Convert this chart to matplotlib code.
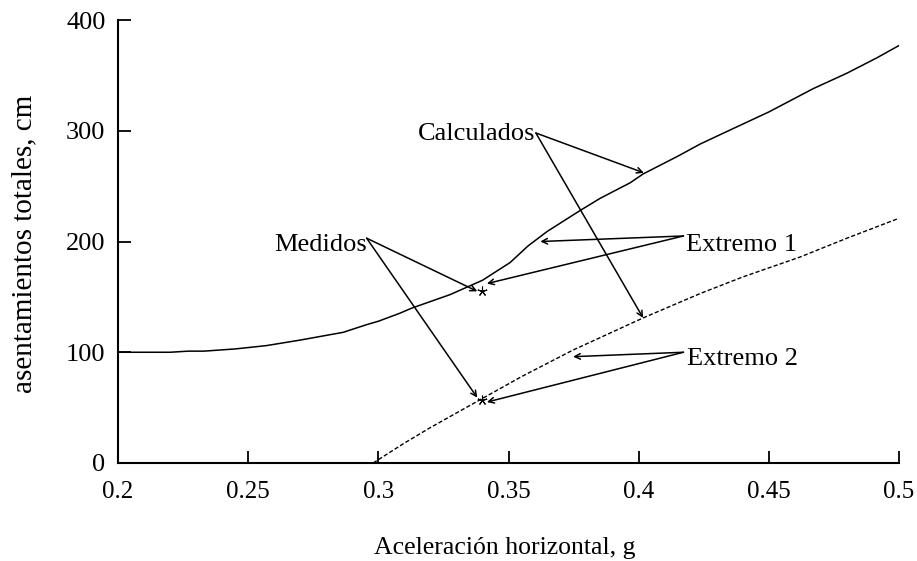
import numpy as np
import matplotlib
matplotlib.use("Agg")
import matplotlib.pyplot as plt

plt.rcParams['font.family'] = ['Liberation Serif', 'DejaVu Serif']

# curva extremo 1 (calculada)
x_ext1 = [0.20, 0.22, 0.227, 0.233, 0.245, 0.257, 0.27, 0.2865, 0.2956, 0.30, 0.308,
          0.313, 0.3275, 0.34, 0.3506, 0.3575, 0.3648, 0.3775, 0.3852, 0.3967,
          0.4017, 0.415, 0.4236, 0.4363, 0.45, 0.467, 0.48, 0.4916, 0.50]
y_ext1 = [100, 100, 101, 101, 103, 106, 111, 118, 125, 128, 135,
          140, 152, 165, 181, 196, 209, 228, 239, 253,
          261, 277, 288, 302, 317, 338, 352, 366, 377]

# curva extremo 2 (calculada)
x_ext2 = [0.298, 0.31, 0.32, 0.339, 0.355, 0.3748, 0.385, 0.4017, 0.4236, 0.44, 0.462, 0.48, 0.50]
y_ext2 = [0, 18, 32, 57, 78, 102, 113, 131, 153, 168, 186, 203, 221]

# valores medidos
x_med = [0.34, 0.34]
y_med = [155, 57]

fig = plt.figure(figsize=(9.17, 5.61), dpi=100)
ax = fig.add_axes([0.1287, 0.1747, 0.8517, 0.7896])

ax.plot(x_ext1, y_ext1, color='black', lw=1.1)
ax.plot(x_ext2, y_ext2, color='black', lw=1.0, dashes=(3, 1.6))
ax.plot(x_med, y_med, ls='none', marker=(5, 2, 0), color='black', ms=7, mew=0.8)

ax.set_xlim(0.2, 0.5)
ax.set_ylim(0, 400)
ax.set_xticks([0.2, 0.25, 0.3, 0.35, 0.4, 0.45, 0.5])
ax.set_xticklabels(['0.2', '0.25', '0.3', '0.35', '0.4', '0.45', '0.5'])
ax.set_yticks([0, 100, 200, 300, 400])
for s in ['top', 'right']:
    ax.spines[s].set_visible(False)
for s in ['left', 'bottom']:
    ax.spines[s].set_linewidth(1.5)
ax.tick_params(direction='in', length=9, width=1.3)
ax.tick_params(axis='x', labelsize=18, pad=13)
ax.tick_params(axis='y', labelsize=19, pad=9)

ax.set_xlabel('Aceleración horizontal, g', fontsize=18.5)
ax.set_ylabel('asentamientos totales, cm', fontsize=21)
ax.xaxis.set_label_coords(0.4955, -0.167)
ax.yaxis.set_label_coords(-0.103, 0.495)

arrow = dict(arrowstyle='->', color='black', lw=1.1, shrinkA=0, shrinkB=0)

# Calculados
ax.annotate('', xy=(0.402, 262), xytext=(0.3605, 298), arrowprops=arrow)
ax.annotate('', xy=(0.4017, 131), xytext=(0.3605, 298), arrowprops=arrow)
ax.text(0.3605, 297, 'Calculados', ha='right', va='center', fontsize=19)

# Medidos
ax.annotate('', xy=(0.338, 155), xytext=(0.2955, 203), arrowprops=arrow)
ax.annotate('', xy=(0.338, 59), xytext=(0.2955, 203), arrowprops=arrow)
ax.text(0.2955, 197, 'Medidos', ha='right', va='center', fontsize=19)

# Extremo 1
ax.annotate('', xy=(0.3622, 200), xytext=(0.4172, 205), arrowprops=arrow)
ax.annotate('', xy=(0.3417, 162), xytext=(0.4172, 205), arrowprops=arrow)
ax.text(0.418, 197, 'Extremo 1', ha='left', va='center', fontsize=19)

# Extremo 2
ax.annotate('', xy=(0.3748, 96), xytext=(0.4172, 100), arrowprops=arrow)
ax.annotate('', xy=(0.3417, 55), xytext=(0.4172, 100), arrowprops=arrow)
ax.text(0.4185, 94, 'Extremo 2', ha='left', va='center', fontsize=19)

fig.savefig('out.png', dpi=100)
